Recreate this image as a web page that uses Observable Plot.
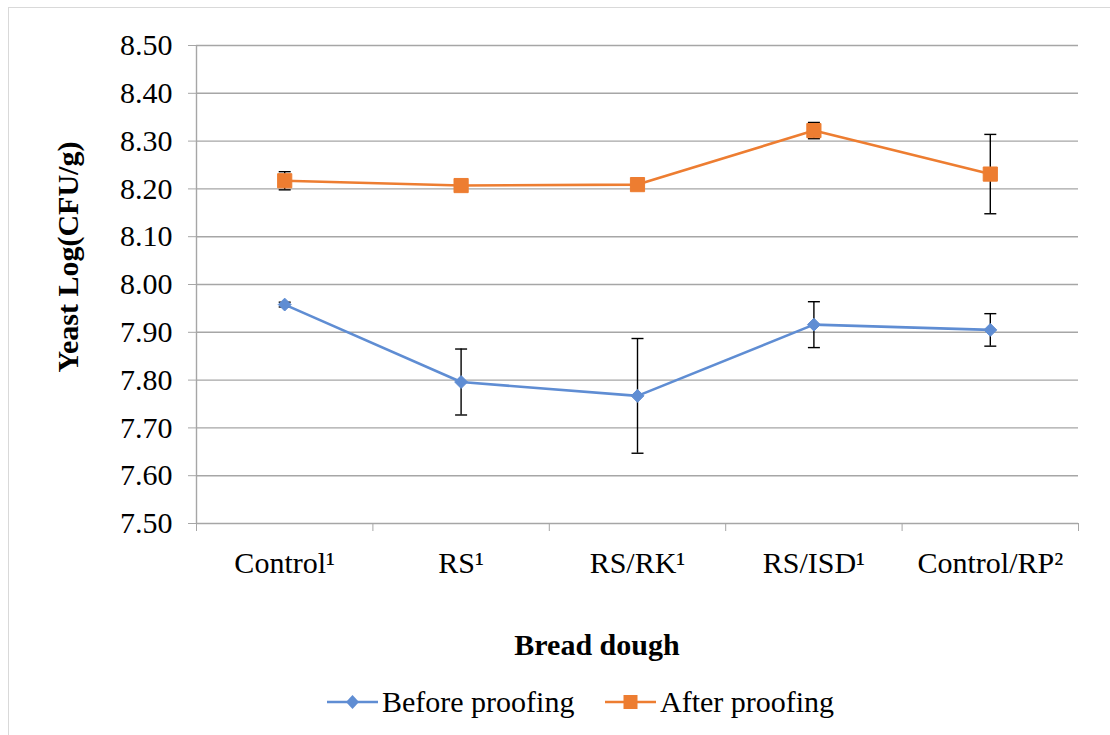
<!DOCTYPE html>
<html>
<head>
<meta charset="utf-8">
<script src="https://cdn.jsdelivr.net/npm/d3@7"></script>
<script src="https://cdn.jsdelivr.net/npm/@observablehq/plot@0.6"></script>
<style>
  html, body { margin: 0; padding: 0; background: #fff; }
  #wrap { position: relative; width: 1110px; height: 735px; overflow: hidden; font-family: "Liberation Serif", "Times New Roman", serif; }
  #frame { position: absolute; left: 8px; top: 7px; width: 1200px; height: 800px; border-left: 1.5px solid #d9d9d9; border-top: 1.5px solid #d9d9d9; }
  #chart { position: absolute; left: 0; top: 0; }
  #chart svg, #chart svg text { font-family: "Liberation Serif", "Times New Roman", serif !important; }
  .title { position: absolute; font-size: 30px; font-weight: bold; color: #000; white-space: nowrap; line-height: 1; }
  #ytitle { left: 68px; top: 257px; transform: translate(-50%, -50%) rotate(-90deg); }
  #xtitle { left: 597px; top: 645px; transform: translate(-50%, -50%); }
  #legend { position: absolute; top: 684px; left: 0; width: 1110px; height: 36px; font-size: 30px; color: #000; font-family: "Liberation Serif", "Times New Roman", serif; }
  .item { position: absolute; top: 0; display: flex; align-items: center; height: 36px; }
  .item svg { margin-right: 4px; }
</style>
</head>
<body>
<div id="wrap">
  <div id="frame"></div>
  <div id="chart"></div>
  <div id="ytitle" class="title"></div>
  <div id="xtitle" class="title"></div>
  <div id="legend"></div>
</div>
<script>
// ---- data ----
const categories = ["Control\u00B9", "RS\u00B9", "RS/RK\u00B9", "RS/ISD\u00B9", "Control/RP\u00B2"];
const seriesNames = ["Before proofing", "After proofing"];
const yTitle = "Yeast Log(CFU/g)";
const xTitle = "Bread dough";
const beforeMean = [7.958, 7.796, 7.767, 7.916, 7.905];
const beforeErr  = [0.005, 0.069, 0.120, 0.048, 0.034];
const afterMean  = [8.217, 8.207, 8.209, 8.322, 8.231];
const afterErr   = [0.019, 0.004, 0.004, 0.017, 0.083];
const yTicks = [7.5, 7.6, 7.7, 7.8, 7.9, 8.0, 8.1, 8.2, 8.3, 8.4, 8.5];
const blue = "#5F8DD3";
const orange = "#ED7D31";
const gridGray = "#A6A6A6";

const before = categories.map((c, i) => ({i, v: beforeMean[i], e: beforeErr[i]}));
const after  = categories.map((c, i) => ({i, v: afterMean[i],  e: afterErr[i]}));
const bounds = d3.range(-0.5, categories.length, 1);

const capSymbol = {
  draw(ctx, size) {
    const r = Math.sqrt(size / Math.PI);
    ctx.moveTo(-r, 0); ctx.lineTo(r, 0);
  }
};

const errMarks = (data) => [
  Plot.ruleX(data, {x: "i", y1: d => d.v - d.e, y2: d => d.v + d.e, stroke: "#000", strokeWidth: 1.4}),
  Plot.dot(data, {x: "i", y: d => d.v - d.e, symbol: capSymbol, r: 6, stroke: "#000", strokeWidth: 1.4}),
  Plot.dot(data, {x: "i", y: d => d.v + d.e, symbol: capSymbol, r: 6, stroke: "#000", strokeWidth: 1.4})
];

const chart = Plot.plot({
  width: 1110,
  height: 600,
  marginLeft: 196,
  marginRight: 32,
  marginTop: 45,
  marginBottom: 77,
  style: {fontSize: "30px", background: "transparent", color: "#000"},
  x: {type: "linear", domain: [-0.5, categories.length - 0.5]},
  y: {domain: [7.5, 8.5]},
  marks: [
    Plot.gridY(yTicks, {stroke: gridGray, strokeOpacity: 1, strokeWidth: 1.4}),
    Plot.ruleX([-0.5], {stroke: gridGray, strokeWidth: 1.4}),
    Plot.axisY({ticks: yTicks, tickFormat: d3.format(".2f"), tickSize: 8, tickPadding: 16, stroke: gridGray, fill: "#000", label: null}),
    Plot.axisX({ticks: bounds, tickFormat: () => "", tickSize: 8, stroke: gridGray, label: null}),
    Plot.axisX({ticks: d3.range(categories.length), tickFormat: i => categories[i], tickSize: 0, tickPadding: 28, fill: "#000", label: null}),
    ...errMarks(before),
    ...errMarks(after),
    Plot.line(before, {x: "i", y: "v", stroke: blue, strokeWidth: 2.6}),
    Plot.line(after,  {x: "i", y: "v", stroke: orange, strokeWidth: 2.6}),
    Plot.dot(before, {x: "i", y: "v", symbol: "diamond2", r: 5.8, fill: blue, stroke: blue, strokeWidth: 1}),
    Plot.dot(after,  {x: "i", y: "v", symbol: "square", r: 8, fill: orange, stroke: orange, strokeWidth: 1})
  ]
});
document.getElementById("chart").appendChild(chart);
document.getElementById("ytitle").textContent = yTitle;
document.getElementById("xtitle").textContent = xTitle;

// ---- legend ----
const legend = document.getElementById("legend");
const legendItems = [
  {name: seriesNames[0], color: blue, sym: "diamond", left: 327},
  {name: seriesNames[1], color: orange, sym: "square", left: 605}
];
for (const it of legendItems) {
  const div = document.createElement("div");
  div.className = "item";
  div.style.left = it.left + "px";
  const marker = it.sym === "diamond"
    ? `<path d="M25.5,11 L32,18 L25.5,25 L19,18 Z" fill="${it.color}"/>`
    : `<rect x="18.5" y="11" width="14" height="14" fill="${it.color}"/>`;
  div.innerHTML = `<svg width="51" height="36"><line x1="0" y1="18" x2="51" y2="18" stroke="${it.color}" stroke-width="2.6"/>${marker}</svg><span>${it.name}</span>`;
  legend.appendChild(div);
}
</script>
</body>
</html>
